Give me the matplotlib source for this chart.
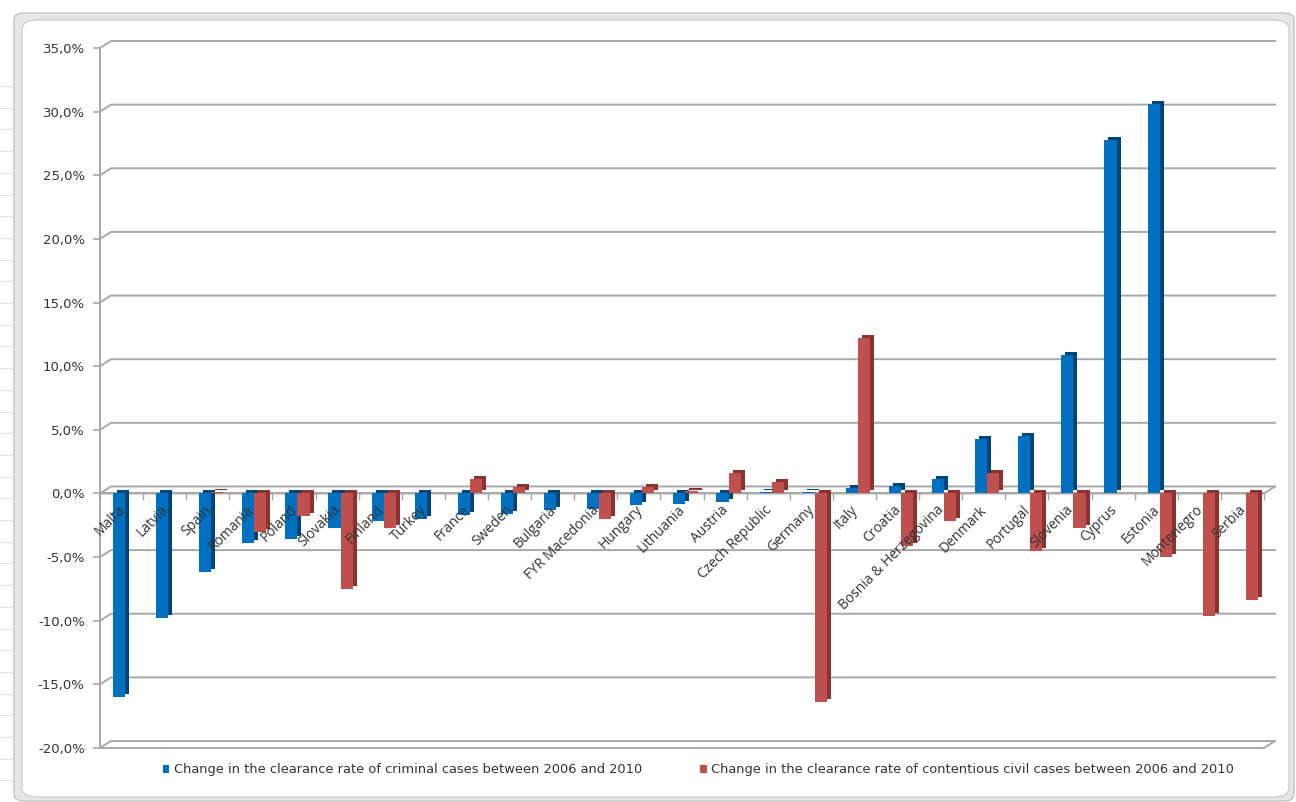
import numpy as np
import matplotlib
matplotlib.use("Agg")
import matplotlib.pyplot as plt
from matplotlib.patches import FancyBboxPatch, Patch
from matplotlib.lines import Line2D
from matplotlib.transforms import ScaledTranslation
from matplotlib.ticker import FuncFormatter, FixedLocator

# data (percent)
countries = ["Malta", "Latvia", "Spain", "Romania", "Poland", "Slovakia", "Finland",
             "Turkey", "France", "Sweden", "Bulgaria", "FYR Macedonia", "Hungary",
             "Lithuania", "Austria", "Czech Republic", "Germany", "Italy", "Croatia",
             "Bosnia & Herzegovina", "Denmark", "Portugal", "Slovenia", "Cyprus",
             "Estonia", "Montenegro", "Serbia"]
criminal = [-16.0, -9.8, -6.2, -3.9, -3.6, -2.75, -2.2, -2.0, -1.7, -1.6, -1.3, -1.2,
            -0.9, -0.8, -0.7, 0.1, 0.1, 0.4, 0.6, 1.1, 4.3, 4.5, 10.9, 27.8, 30.6,
            0.0, 0.0]
civil = [0.0, 0.0, 0.1, -3.0, -1.8, -7.5, -2.7, 0.0, 1.1, 0.5, 0.0, -2.0,
         0.5, 0.2, 1.6, 0.9, -16.4, 12.2, -4.1, -2.2, 1.6, -4.5, -2.7, 0.0, -5.0,
         -9.6, -8.4]
yticks = [-20, -15, -10, -5, 0, 5, 10, 15, 20, 25, 30, 35]
legend_labels = ["Change in the clearance rate of criminal cases between 2006 and 2010",
                 "Change in the clearance rate of contentious civil cases between 2006 and 2010"]

BLUE, BLUE_DARK = "#0070C0", "#00467a"
RED, RED_DARK = "#C0504D", "#8a3331"
GRID = "#a8a8a8"
TXT = "#333333"

W, H, DPI = 1296, 802, 100
fig = plt.figure(figsize=(W / DPI, H / DPI), dpi=DPI)
fig.patch.set_facecolor("white")


def fx(x):
    return x / W


def fy(y):
    return 1 - y / H


# Excel chart frame
outer = FancyBboxPatch((fx(14), fy(801)), fx(1294) - fx(14), fy(13) - fy(801),
                       boxstyle="round,pad=0,rounding_size=0.008",
                       transform=fig.transFigure, facecolor="#e6e6e6",
                       edgecolor="#c4c4c4", lw=1.0, zorder=-3)
inner = FancyBboxPatch((fx(22), fy(797)), fx(1289) - fx(22), fy(20) - fy(797),
                       boxstyle="round,pad=0,rounding_size=0.012",
                       transform=fig.transFigure, facecolor="white",
                       edgecolor="#d0d0d0", lw=1.0, zorder=-2)
fig.patches.extend([outer, inner])
# faint spreadsheet rows on the left
for yy in np.arange(86, 800, 21.7):
    fig.add_artist(Line2D([0, fx(13)], [fy(yy), fy(yy)], color="#e2e2e2", lw=0.8,
                          transform=fig.transFigure, zorder=-4))

ax = fig.add_axes([fx(100), fy(748), fx(1264) - fx(100), fy(48) - fy(748)])
ax.set_facecolor("none")
ax.set_zorder(1)

n = len(countries)
x = np.arange(n)
crim = np.array(criminal) / 100
civ = np.array(civil) / 100

ax.set_xlim(-0.5, n - 0.5)
ax.set_ylim(-0.20, 0.35)

# pseudo 3D depth: darker copy shifted up-right behind each bar
depth = ScaledTranslation(4 / DPI, 3 / DPI, fig.dpi_scale_trans)
bw = 0.28
ax.bar(x - 0.06, crim, bw, color=BLUE_DARK, transform=ax.transData + depth, zorder=3)
ax.bar(x - 0.06, crim, bw, color=BLUE, zorder=4)
ax.bar(x + 0.22, civ, bw, color=RED_DARK, transform=ax.transData + depth, zorder=5)
ax.bar(x + 0.22, civ, bw, color=RED, zorder=6)

# back wall gridlines with 3D offset
dxa = 11 / (1264 - 100)
dyd = 7 * 0.55 / 700
ticks = np.array(yticks) / 100
trans = ax.get_yaxis_transform()
for t in ticks:
    ax.plot([0, dxa, 1 + dxa], [t, t + dyd, t + dyd], color=GRID, lw=1.4,
            transform=trans, clip_on=False, zorder=1)
# floor at the bottom and right edge of the zero plane
for t in (ticks[0], 0.0):
    ax.plot([0, 1, 1 + dxa], [t, t, t + dyd], color=GRID, lw=1.4,
            transform=trans, clip_on=False, zorder=1)

for s in ("top", "right"):
    ax.spines[s].set_visible(False)
ax.spines["left"].set_color(GRID)
ax.spines["left"].set_linewidth(1.4)
ax.spines["bottom"].set_position(("data", 0))
ax.spines["bottom"].set_color(GRID)
ax.spines["bottom"].set_linewidth(1.4)
ax.spines["bottom"].set_zorder(2)

ax.yaxis.set_major_locator(FixedLocator(ticks))
ax.yaxis.set_major_formatter(FuncFormatter(lambda v, p: f"{v * 100:.1f}%".replace(".", ",")))
ax.tick_params(axis="y", length=5, width=1.2, color=GRID, labelsize=9.5,
               labelcolor=TXT, pad=6)
ax.set_xticks(np.arange(n + 1) - 0.5)
ax.set_xticklabels([])
ax.tick_params(axis="x", length=5, width=1.0, color=GRID, direction="out")

for i, name in enumerate(countries):
    ax.annotate(name, (i, 0), xytext=(-3, -6.5), textcoords="offset points",
                rotation=45, ha="right", va="top", rotation_mode="anchor",
                fontsize=10, color=TXT, family="Open Sans", zorder=10)

handles = [Patch(facecolor=BLUE), Patch(facecolor=RED)]
fig.legend(handles, legend_labels, loc="center left",
           bbox_to_anchor=(fx(156), fy(770)), ncol=2, frameon=False,
           handlelength=0.5, handleheight=0.5, handletextpad=0.35,
           columnspacing=4.45, fontsize=9.4, labelcolor=TXT, borderpad=0)

fig.savefig("out.png", dpi=DPI)
